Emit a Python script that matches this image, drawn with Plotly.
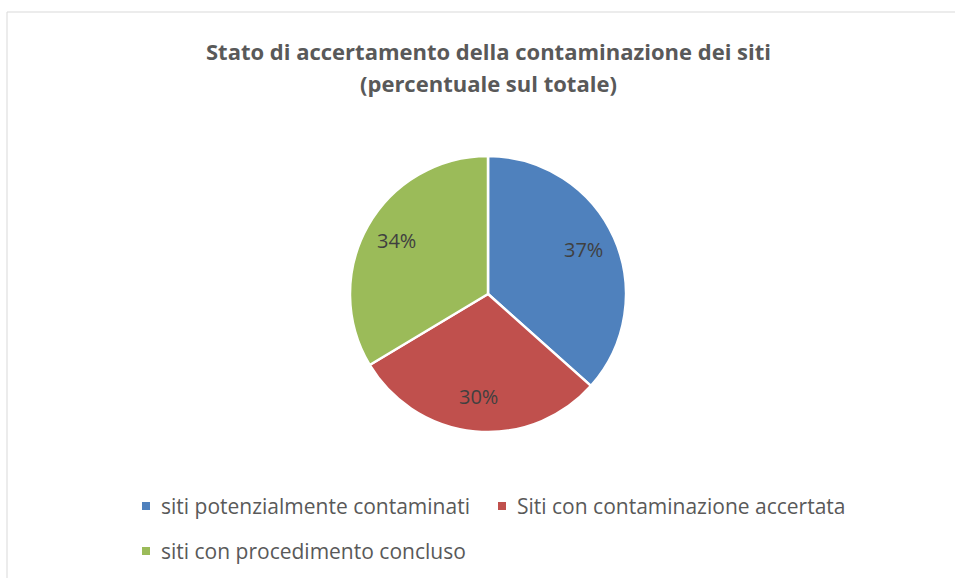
import math
import plotly.graph_objects as go

labels = ["siti potenzialmente contaminati", "Siti con contaminazione accertata", "siti con procedimento concluso"]
values = [36.6, 29.8, 33.6]
colors = ["#4F81BD", "#C0504D", "#9BBB59"]
title_lines = ["Stato di accertamento della contaminazione dei siti", "(percentuale sul totale)"]

W, H = 955, 578
cx, cy, r = 488, 294, 138
FONT = "Open Sans"

fig = go.Figure(go.Pie(
    labels=labels,
    values=values,
    sort=False,
    direction="clockwise",
    rotation=0,
    marker=dict(colors=colors, line=dict(color="white", width=2.5)),
    textinfo="none",
    domain=dict(x=[(cx - r) / W, (cx + r) / W], y=[(H - cy - r) / H, (H - cy + r) / H]),
    hoverinfo="label+percent",
    showlegend=False,
))

annotations = []
total = sum(values)
cum = 0.0
for v in values:
    mid = (cum + v / 2) / total * 2 * math.pi
    cum += v
    d = 0.76 * r
    px = cx + d * math.sin(mid)
    py = cy - d * math.cos(mid) - 2
    annotations.append(dict(x=px / W, y=1 - py / H, xref="paper", yref="paper",
                            xanchor="center", yanchor="middle",
                            text=f"{round(v / total * 100)}%", showarrow=False,
                            font=dict(family=FONT, size=20, color="#404040")))

# title (two lines, Excel-like spacing)
for ty, line in zip([51, 83], title_lines):
    annotations.append(dict(x=488 / W, y=1 - ty / H, xref="paper", yref="paper",
                            xanchor="center", yanchor="middle", text=f"<b>{line}</b>", showarrow=False,
                            font=dict(family=FONT, size=22, color="#595959")))

# manual legend (Excel-style)
leg_pos = [(142, 506), (498, 506), (142, 551)]
shapes = [dict(type="rect", xref="paper", yref="paper", x0=7 / W, x1=1.01, y0=-0.01, y1=1 - 12 / H,
               line=dict(color="#D9D9D9", width=1), fillcolor="rgba(0,0,0,0)", layer="below")]
for (lx, ly), lab, col in zip(leg_pos, labels, colors):
    shapes.append(dict(type="rect", xref="paper", yref="paper",
                       x0=lx / W, x1=(lx + 8) / W, y0=1 - (ly + 4) / H, y1=1 - (ly - 4) / H,
                       line=dict(width=0), fillcolor=col))
    annotations.append(dict(x=(lx + 17) / W, y=1 - ly / H, xref="paper", yref="paper",
                            xanchor="left", yanchor="middle", text=lab, showarrow=False,
                            font=dict(family=FONT, size=21, color="#595959")))

fig.update_layout(
    width=W, height=H,
    margin=dict(l=0, r=0, t=0, b=0),
    paper_bgcolor="white",
    plot_bgcolor="white",
    showlegend=False,
    shapes=shapes,
    annotations=annotations,
)

fig.write_html("out.html", config={"displayModeBar": False},
               post_script="document.body.style.margin='0';")
